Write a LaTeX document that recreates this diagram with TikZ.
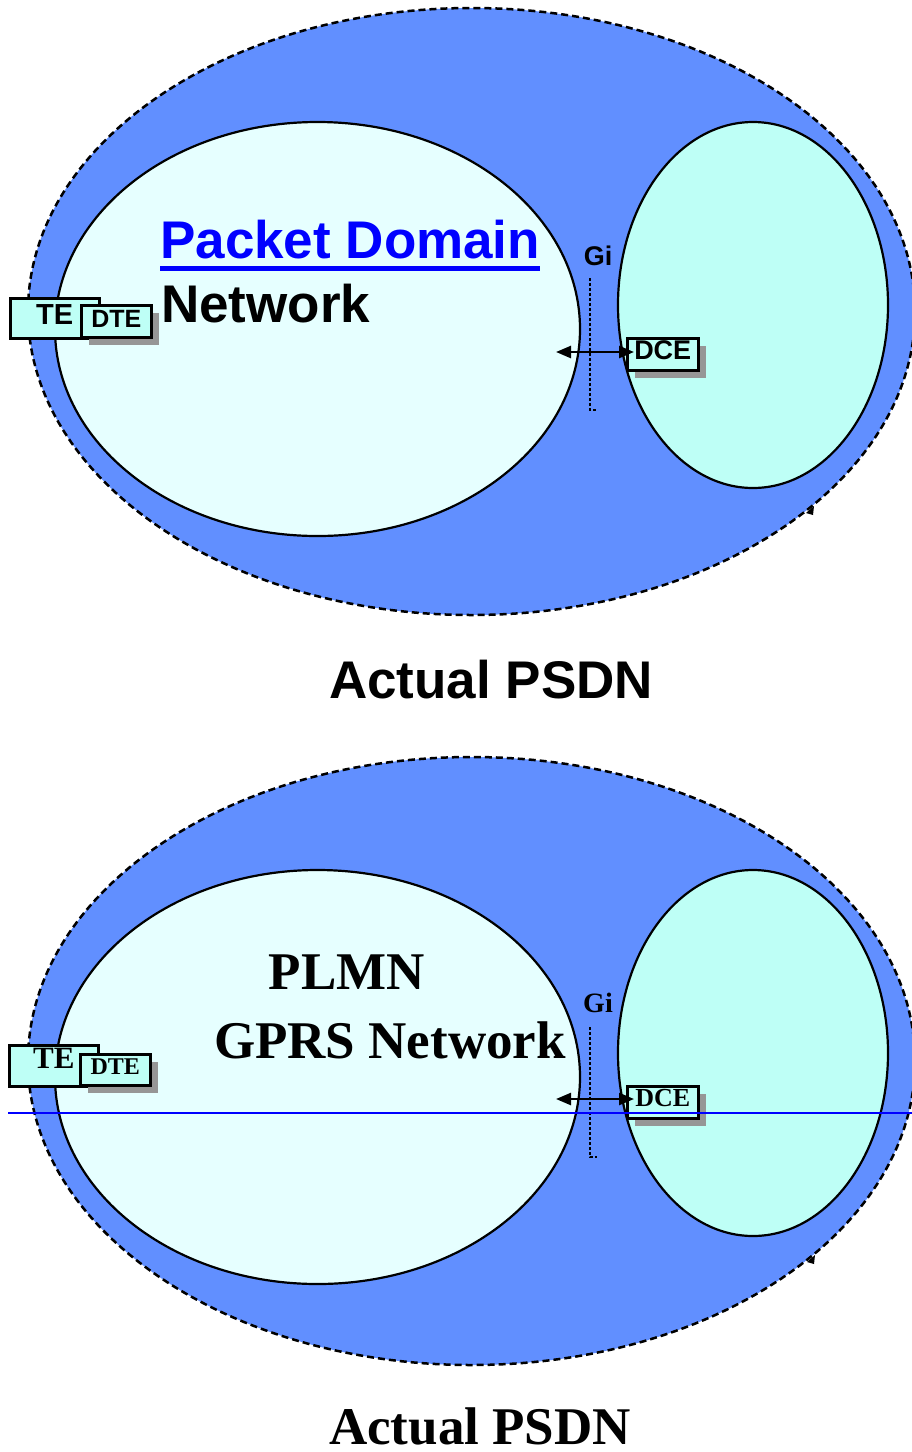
\documentclass[tikz,border=0pt]{standalone}
\usepackage{fontspec}
\newfontfamily\sansf{Liberation Sans}
\newfontfamily\seriff{Liberation Serif}
\usetikzlibrary{shapes.geometric,shadows,arrows.meta}
\definecolor{outerblue}{RGB}{97,143,255}
\definecolor{paleaqua}{RGB}{230,255,255}
\definecolor{aqua}{RGB}{190,255,246}
\definecolor{shadowgray}{RGB}{150,150,150}
\newcommand\fsz[1]{\fontsize{#1}{#1}\selectfont}
\begin{document}
\begin{tikzpicture}[x=1pt,y=-1pt,
  outerell/.style={ellipse, draw=black, fill=outerblue, line width=2.5pt, dash pattern=on 7pt off 4pt, inner sep=0pt},
  innerell/.style={ellipse, draw=black, line width=2.2pt, inner sep=0pt},
  boxnode/.style={draw=black, fill=aqua, line width=2.5pt, inner sep=0pt, anchor=north west, align=center},
  shbox/.style={boxnode, drop shadow={shadow xshift=8pt, shadow yshift=-8pt, fill=shadowgray, opacity=1}},
  lbl/.style={inner sep=0pt, anchor=base},
  dotline/.style={line width=2.5pt, dash pattern=on 2.5pt off 2.5pt},
  arr/.style={line width=2.5pt, {Triangle[length=15pt,width=12pt]}-{Triangle[length=15pt,width=12pt]}},
]
\useasboundingbox (0,0) rectangle (912,1452);

% ---------------- top panel ----------------
\node[outerell, minimum width=887pt, minimum height=607pt] (o1) at (471.5,311.5) {};
\fill (806,513) -- (814,506) -- (813,515) -- cycle;
\node[innerell, fill=paleaqua, minimum width=525pt, minimum height=414pt] (l1) at (317.5,329) {};
\node[innerell, fill=aqua, minimum width=270pt, minimum height=366pt] (r1) at (753,305) {};
\node[boxnode, minimum width=89pt, text height=26pt, text depth=14pt] (te1) at (9,297) {\sansf\bfseries\fsz{29pt}TE};
\node[shbox, minimum width=70pt, text height=22pt, text depth=10pt] (dte1) at (80,304) {\sansf\bfseries\fsz{25pt}DTE};
\node[lbl, anchor=base west, text=blue] (pd1) at (160,258) {\sansf\bfseries\fsz{53pt}Packet Domain};
\draw[blue, line width=5pt] ([yshift=-10pt]pd1.base west) -- ([yshift=-10pt]pd1.base east);
\node[lbl, anchor=base west] (nw1) at (161,322) {\sansf\bfseries\fsz{53pt}Network};
\node[lbl] (gi1) at (598,265) {\sansf\bfseries\fsz{27pt}Gi};
\coordinate (g1a) at (590,278);
\coordinate (g1b) at (590,410);
\coordinate (g1c) at (597,410);
\draw[dotline] (g1a) -- (g1b) -- (g1c);
\node[shbox, minimum width=71pt, text height=21pt, text depth=11pt] (dce1) at (626,337) {\sansf\bfseries\fsz{27pt}DCE};
\coordinate (a1l) at (556,352);
\coordinate (a1r) at (634,352);
\draw[arr] (a1l) -- (a1r);
\node[lbl] (ap1) at (491,698) {\sansf\bfseries\fsz{53pt}Actual PSDN};

% ---------------- bottom panel ----------------
\node[outerell, minimum width=887pt, minimum height=608pt] (o2) at (471.5,1061) {};
\fill (807,1262) -- (815,1255) -- (814,1264) -- cycle;
\node[innerell, fill=paleaqua, minimum width=525pt, minimum height=414pt] (l2) at (317.5,1077) {};
\node[innerell, fill=aqua, minimum width=270pt, minimum height=366pt] (r2) at (753,1053) {};
\node[boxnode, minimum width=89pt, text height=23pt, text depth=18pt] (te2) at (8,1044) {\seriff\bfseries\fsz{31pt}TE};
\node[shbox, minimum width=70pt, text height=20pt, text depth=11pt] (dte2) at (79,1053) {\seriff\bfseries\fsz{24pt}DTE};
\node[lbl] (pl2) at (347,989) {\seriff\bfseries\fsz{53pt}PLMN};
\node[lbl] (gp2) at (390,1058) {\seriff\bfseries\fsz{53pt}GPRS Network};
\node[lbl] (gi2) at (598,1012) {\seriff\bfseries\fsz{28pt}Gi};
\coordinate (g2a) at (590,1027);
\coordinate (g2b) at (590,1157);
\coordinate (g2c) at (597,1157);
\draw[dotline] (g2a) -- (g2b) -- (g2c);
\node[shbox, minimum width=71pt, text height=20pt, text depth=12pt] (dce2) at (626,1085) {\seriff\bfseries\fsz{26pt}DCE};
\coordinate (a2l) at (556,1099);
\coordinate (a2r) at (634,1099);
\draw[arr] (a2l) -- (a2r);
\node[lbl] (ap2) at (480,1444) {\seriff\bfseries\fsz{53pt}Actual PSDN};
\coordinate (bl1) at (8,1113);
\coordinate (bl2) at (912,1113);
\draw[blue, line width=1.5pt] (bl1) -- (bl2);
\end{tikzpicture}
\end{document}
